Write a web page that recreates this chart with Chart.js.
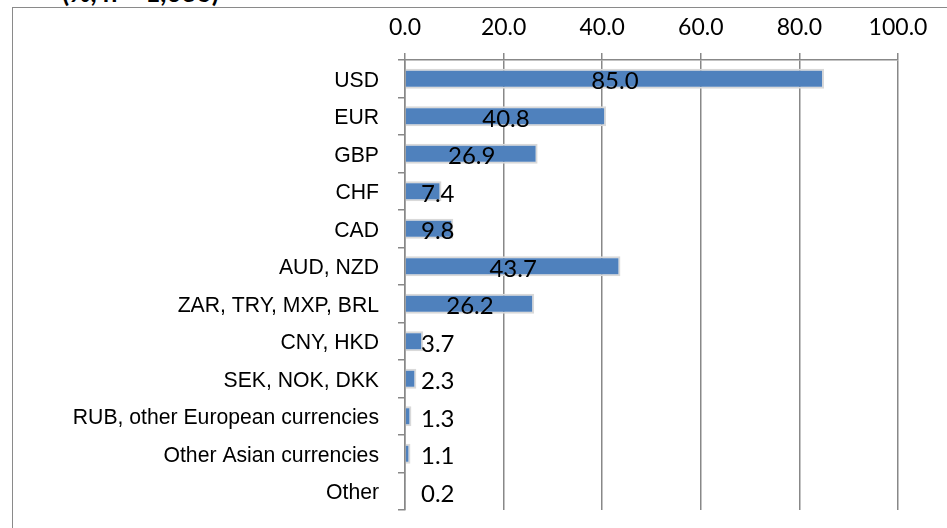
<!DOCTYPE html>
<html>
<head>
<meta charset="utf-8">
<script src="https://cdn.jsdelivr.net/npm/chart.js@4"></script>
<style>
  html, body { margin: 0; padding: 0; background: #fff; overflow: hidden; }
  #wrap { position: relative; width: 947px; height: 528px; overflow: hidden; }
  #frame { position: absolute; left: 12px; top: 7px; width: 1000px; height: 600px; border: 1.5px solid #8a8a8a; }
  #title { position: absolute; left: 62px; top: -21px; font: bold 26px Lato, sans-serif; line-height: 26px; color: #000; white-space: nowrap; }
  canvas { position: absolute; left: 0; top: 0; }
</style>
</head>
<body>
<div id="wrap">
  <div id="frame"></div>
  <div id="title">(%, n = 1,036)</div>
  <canvas id="chart" width="947" height="528"></canvas>
</div>
<script>
const categories = [
  "USD", "EUR", "GBP", "CHF", "CAD", "AUD, NZD", "ZAR, TRY, MXP, BRL",
  "CNY, HKD", "SEK, NOK, DKK", "RUB, other European currencies",
  "Other Asian currencies", "Other"
]
const shares = [85.0, 40.8, 26.9, 7.4, 9.8, 43.7, 26.2, 3.7, 2.3, 1.3, 1.1, 0.2]
const xTicks = [0, 20, 40, 60, 80, 100]

const axisGray = '#888888'
const labelFont = '24px Lato, sans-serif'

// value labels: centred on the bar, but never closer than 16px to the axis
const valueLabels = {
  id: 'valueLabels',
  afterDatasetsDraw(chart) {
    const ctx = chart.ctx
    const meta = chart.getDatasetMeta(0)
    const x0 = chart.scales.x.getPixelForValue(0)
    ctx.save()
    ctx.font = labelFont
    ctx.fillStyle = '#000'
    ctx.textBaseline = 'middle'
    ctx.textAlign = 'left'
    meta.data.forEach((bar, i) => {
      const text = shares[i].toFixed(1)
      const w = ctx.measureText(text).width
      const left = Math.max((bar.base + bar.x) / 2 - w / 2, x0 + 16)
      ctx.fillText(text, left, bar.y + 3)
    })
    ctx.restore()
  }
}

new Chart(document.getElementById('chart'), {
  type: 'bar',
  data: {
    labels: categories,
    datasets: [{
      data: shares,
      backgroundColor: '#4f81bd',
      borderColor: '#d9d9d9',
      borderWidth: 2,
      categoryPercentage: 1,
      barPercentage: 0.53
    }]
  },
  options: {
    indexAxis: 'y',
    responsive: false,
    animation: false,
    layout: { padding: { left: 0, right: 49, top: 0, bottom: 18 } },
    plugins: {
      legend: { display: false },
      tooltip: { enabled: false }
    },
    scales: {
      x: {
        position: 'top',
        min: 0,
        max: 100,
        afterBuildTicks: scale => { scale.ticks = xTicks.map(v => ({ value: v })) },
        afterFit: scale => { scale.height = 60; scale.paddingLeft = 0; scale.paddingRight = 0 },
        ticks: {
          callback: v => Number(v).toFixed(1),
          font: { family: 'Lato', size: 23 },
          color: '#000',
          padding: 12,
          maxRotation: 0
        },
        grid: { color: axisGray, lineWidth: 1.5, tickLength: 7 },
        border: { color: axisGray, width: 1.5 }
      },
      y: {
        afterFit: scale => { scale.width = 405; scale.paddingTop = 0; scale.paddingBottom = 0 },
        ticks: {
          font: { family: 'Liberation Sans', size: 21.2 },
          color: '#000',
          padding: 19,
          labelOffset: 2
        },
        grid: { drawOnChartArea: false, color: axisGray, lineWidth: 1.5, tickLength: 7, offset: true },
        border: { color: axisGray, width: 1.5 }
      }
    }
  },
  plugins: [valueLabels]
})
</script>
</body>
</html>
